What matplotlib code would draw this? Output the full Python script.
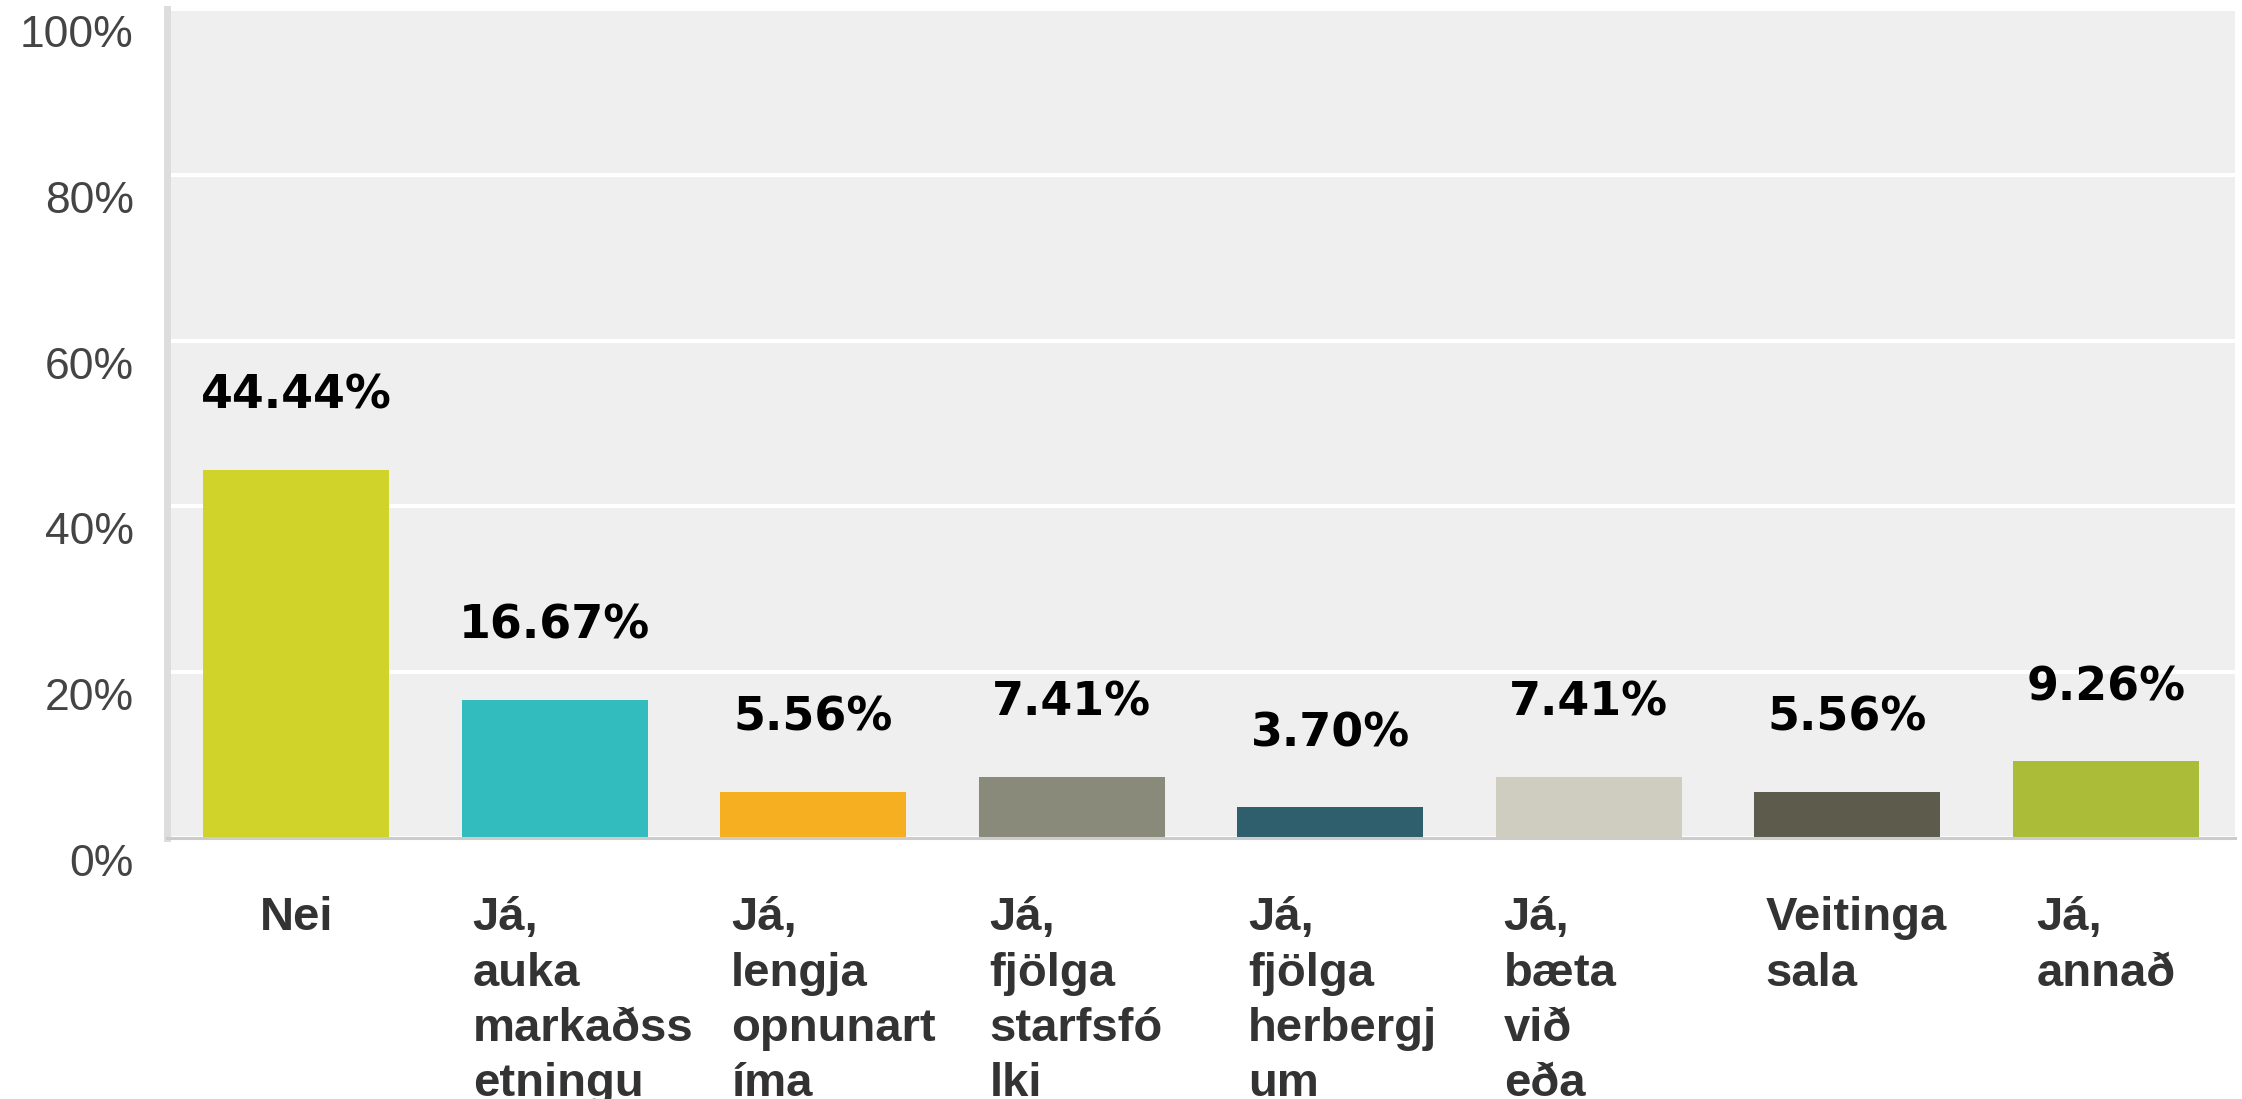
import matplotlib
matplotlib.use("Agg")
from matplotlib import pyplot as plt
from matplotlib.transforms import ScaledTranslation
import numpy as np

# data
categories = ["Nei",
              "Já,\nauka\nmarkaðss\netningu",
              "Já,\nlengja\nopnunart\níma",
              "Já,\nfjölga\nstarfsfó\nlki",
              "Já,\nfjölga\nherbergj\num",
              "Já,\nbæta\nvið\neða",
              "Veitinga\nsala",
              "Já,\nannað"]
values = [44.44, 16.67, 5.56, 7.41, 3.70, 7.41, 5.56, 9.26]
value_labels = ["44.44%", "16.67%", "5.56%", "7.41%", "3.70%", "7.41%", "5.56%", "9.26%"]
yticks = [0, 20, 40, 60, 80, 100]
ytick_labels = ["0%", "20%", "40%", "60%", "80%", "100%"]
colors = ["#cfd32a", "#33bcbd", "#f6af21", "#8a8a7a", "#2f5f6c", "#cfcdbf", "#5d5b4c", "#abbd38"]

W, H = 2242, 1099
fig = plt.figure(figsize=(W / 100, H / 100), dpi=100)
left, right, top, bottom = 167, 2235, 9, 838
ax = fig.add_axes([left / W, 1 - bottom / H, (right - left) / W, (bottom - top) / H])
ax.set_facecolor("#efefef")

x = np.arange(len(values))
bar_w = 0.72
bars = ax.bar(x, values, width=bar_w, color=colors, zorder=3)

ax.set_xlim(-0.5, len(values) - 0.5)
ax.set_ylim(0, 100)

# gridlines
ax.set_yticks(yticks)
ax.yaxis.grid(True, color="white", linewidth=2.9, zorder=1)
ax.set_axisbelow(True)

# spines
for s in ["top", "right"]:
    ax.spines[s].set_visible(False)
ax.spines["left"].set_color("#dddddd")
ax.spines["left"].set_linewidth(5)
ax.spines["bottom"].set_color("#cccccc")
ax.spines["bottom"].set_linewidth(2.2)
ax.spines["bottom"].set_zorder(4)

# y tick labels sit below their gridlines
ax.set_yticklabels(ytick_labels, fontsize=32, color="#444444", family="Liberation Sans")
ax.tick_params(axis="y", length=0, pad=24)
shift = ScaledTranslation(0, -22 / 100, fig.dpi_scale_trans)
for lab in ax.get_yticklabels():
    lab.set_transform(lab.get_transform() + shift)

# category labels: short ones centred, wrapped ones start at the bar's left edge
ax.set_xticks(x)
ax.set_xticklabels(categories, fontsize=34, fontweight="bold", color="#333333",
                   family="Liberation Sans", linespacing=1.33, va="top", ha="center",
                   multialignment="left")
ax.tick_params(axis="x", length=0, pad=42)
slot_px = (right - left) / len(values)
for lab in ax.get_xticklabels():
    lines = lab.get_text().split("\n")
    if len(lines) > 2 or max(len(s) for s in lines) > 5:
        pad_px = 11 if len(lines) != 4 or lines[1] != "bæta" else 8
        to_left = ScaledTranslation((-bar_w * slot_px / 2 + pad_px) / 100, 0, fig.dpi_scale_trans)
        lab.set_ha("left")
        lab.set_transform(lab.get_transform() + to_left)

# value labels
for xi, v, t in zip(x, values, value_labels):
    ax.annotate(t, (xi, v), xytext=(0, 53), textcoords="offset points",
                ha="center", va="center", fontsize=33, fontweight="bold",
                color="black", zorder=5)

plt.savefig("out.png", dpi=100)
